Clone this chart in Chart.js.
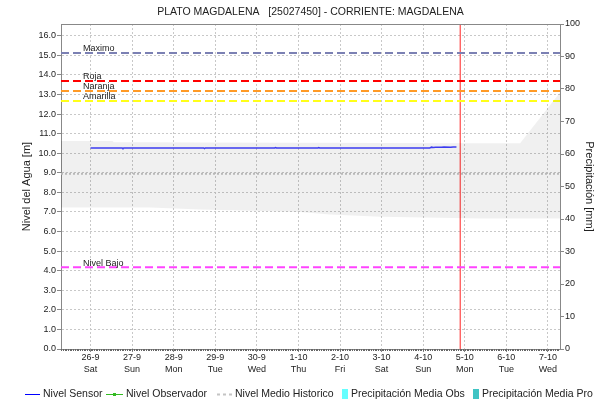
<!DOCTYPE html>
<html>
<head>
<meta charset="utf-8">
<title>Plato Magdalena</title>
<script src="https://cdn.jsdelivr.net/npm/chart.js@4.4.1/dist/chart.umd.min.js"></script>
<style>
  html, body { margin: 0; padding: 0; background: #fff; }
  canvas { display: block; }
</style>
</head>
<body>
<canvas id="nivelChart" width="594" height="403"></canvas>
<script>
const FUENTE = '"Liberation Sans", Arial, sans-serif';
const TITULO = 'PLATO MAGDALENA   [25027450] - CORRIENTE: MAGDALENA';

// eje x en dias contados desde 26-9 00:00
const diaInicio = -0.71;
const diaFin = 11.29;
const fechas = ['26-9', '27-9', '28-9', '29-9', '30-9', '1-10', '2-10', '3-10', '4-10', '5-10', '6-10', '7-10'];
const diasSemana = ['Sat', 'Sun', 'Mon', 'Tue', 'Wed', 'Thu', 'Fri', 'Sat', 'Sun', 'Mon', 'Tue', 'Wed'];

const nivelTicks = [0, 1, 2, 3, 4, 5, 6, 7, 8, 9, 10, 11, 12, 13, 14, 15, 16];
const precipTicks = [0, 10, 20, 30, 40, 50, 60, 70, 80, 90, 100];

// lecturas del sensor
const sensorDias = [0, 0.76, 0.78, 0.8, 2.72, 2.74, 2.76, 4.43, 4.45, 4.47, 5.47, 5.49, 5.51, 8.16, 8.2, 8.24, 8.3, 8.44, 8.5, 8.66, 8.72, 8.8];
const sensorNivel = [10.27, 10.27, 10.25, 10.27, 10.27, 10.24, 10.27, 10.27, 10.29, 10.27, 10.27, 10.29, 10.27, 10.27, 10.31, 10.29, 10.31, 10.3, 10.32, 10.3, 10.32, 10.32];

// rango historico y nivel medio
const historicoDias = [-0.71, 0.53, 0.56, 1.42, 2.62, 5.03, 5.75, 6.96, 9.36, 10.33, 11.29];
const historicoMax = [10.63, 10.63, 10.56, 10.56, 10.55, 10.54, 10.53, 10.52, 10.51, 10.51, 13.1];
const historicoMin = [7.23, 7.23, 7.23, 7.23, 7.13, 7.0, 6.87, 6.75, 6.67, 6.67, 6.67];
const nivelMedio = 8.95;

// umbrales de alerta
const umbralNombres = ['Maximo', 'Roja', 'Naranja', 'Amarilla', 'Nivel Bajo'];
const umbralValores = [15.12, 13.69, 13.18, 12.67, 4.17];
const umbralColores = ['#7b80b3', '#ff0000', '#ff9a26', '#ffff1a', '#ff44ff'];

const horaActual = 8.89;

const leyenda = [
  { tipo: 'linea', color: '#0000ff', texto: 'Nivel Sensor', x: 25, ancho: 15 },
  { tipo: 'marcador', color: '#33bb22', texto: 'Nivel Observador', x: 106, ancho: 17 },
  { tipo: 'puntos', color: '#c4c4c4', texto: 'Nivel Medio Historico', x: 217, ancho: 15 },
  { tipo: 'caja', color: '#66ffff', texto: 'Precipitación Media Obs', x: 342, ancho: 6 },
  { tipo: 'caja', color: '#40c4c4', texto: 'Precipitación Media Pro', x: 473, ancho: 6 }
];

const aPuntos = (xs, ys) => xs.map((x, i) => ({ x: x, y: ys[i] }));
const horizontal = v => [{ x: diaInicio, y: v }, { x: diaFin, y: v }];

const datasets = [
  {
    data: aPuntos(historicoDias, historicoMin),
    borderWidth: 0,
    pointRadius: 0,
    fill: false
  },
  {
    data: aPuntos(historicoDias, historicoMax),
    borderWidth: 0,
    pointRadius: 0,
    fill: '-1',
    backgroundColor: 'rgba(0, 0, 0, 0.06)'
  },
  {
    data: horizontal(nivelMedio),
    borderColor: '#c4c4c4',
    borderWidth: 2,
    borderDash: [2, 2],
    pointRadius: 0
  }
];

umbralValores.forEach((v, i) => {
  datasets.push({
    data: horizontal(v),
    borderColor: umbralColores[i],
    borderWidth: 2,
    borderDash: [8, 4],
    pointRadius: 0
  });
});

datasets.push({
  data: aPuntos(sensorDias, sensorNivel),
  borderColor: '#3f3fff',
  borderWidth: 1.5,
  pointRadius: 0
});

datasets.push({
  data: [{ x: horaActual, y: 0 }, { x: horaActual, y: 16.6 }],
  borderColor: '#ff2020',
  borderWidth: 1,
  pointRadius: 0
});

const decoracion = {
  id: 'decoracion',
  afterDatasetsDraw(chart) {
    const { ctx, chartArea, scales } = chart;
    ctx.save();

    // borde superior del area
    ctx.strokeStyle = '#888';
    ctx.lineWidth = 1;
    ctx.beginPath();
    ctx.moveTo(chartArea.left, chartArea.top + 0.5);
    ctx.lineTo(chartArea.right, chartArea.top + 0.5);
    ctx.stroke();

    // marcas horarias sobre el eje x
    ctx.strokeStyle = '#666';
    ctx.beginPath();
    for (let h = Math.ceil(diaInicio * 24); h <= diaFin * 24; h++) {
      const px = Math.round(scales.x.getPixelForValue(h / 24)) + 0.5;
      ctx.moveTo(px, chartArea.bottom);
      ctx.lineTo(px, chartArea.bottom + 2);
    }
    ctx.stroke();

    // nombres de los umbrales
    ctx.fillStyle = '#222';
    ctx.font = '9px ' + FUENTE;
    ctx.textAlign = 'left';
    ctx.textBaseline = 'alphabetic';
    umbralNombres.forEach((n, i) => {
      ctx.fillText(n, chartArea.left + 22, scales.y.getPixelForValue(umbralValores[i]) - 1.5);
    });
    ctx.restore();
  },
  afterDraw(chart) {
    const { ctx, chartArea } = chart;
    ctx.save();
    ctx.fillStyle = '#222';
    ctx.font = '10.5px ' + FUENTE;
    ctx.textAlign = 'center';
    ctx.textBaseline = 'middle';
    ctx.fillText(TITULO, (chartArea.left + chartArea.right) / 2, 12);

    // leyenda
    const y = 394;
    ctx.textAlign = 'left';
    ctx.font = '10.5px ' + FUENTE;
    leyenda.forEach(item => {
      ctx.strokeStyle = item.color;
      ctx.fillStyle = item.color;
      ctx.lineWidth = 1;
      if (item.tipo === 'caja') {
        ctx.fillRect(item.x, y - 5, item.ancho, 10);
      } else {
        ctx.setLineDash(item.tipo === 'puntos' ? [3, 3] : []);
        ctx.lineWidth = item.tipo === 'puntos' ? 2 : 1;
        ctx.beginPath();
        ctx.moveTo(item.x, y + 0.5);
        ctx.lineTo(item.x + item.ancho, y + 0.5);
        ctx.stroke();
        ctx.setLineDash([]);
        if (item.tipo === 'marcador') {
          ctx.fillRect(item.x + item.ancho / 2 - 1.5, y - 1, 3, 3);
        }
      }
      ctx.fillStyle = '#222';
      ctx.fillText(item.texto, item.x + item.ancho + 3, y);
    });
    ctx.restore();
  }
};

const fuenteTicks = { family: FUENTE, size: 9 };

new Chart(document.getElementById('nivelChart'), {
  type: 'line',
  data: { datasets: datasets },
  plugins: [decoracion],
  options: {
    responsive: false,
    animation: false,
    layout: { padding: { top: 24, left: 0, right: 0, bottom: 0 } },
    plugins: {
      legend: { display: false },
      tooltip: { enabled: false }
    },
    scales: {
      x: {
        type: 'linear',
        min: diaInicio,
        max: diaFin,
        afterBuildTicks: s => { s.ticks = fechas.map((f, i) => ({ value: i })); },
        afterFit: s => { s.height = 54; },
        ticks: {
          callback: (v, i) => [fechas[i], diasSemana[i]],
          font: { family: FUENTE, size: 9, lineHeight: 1.3 },
          color: '#222',
          padding: 0,
          maxRotation: 0,
          autoSkip: false
        },
        grid: { color: '#c8c8c8', tickColor: '#888', tickLength: 3 },
        border: { color: '#888', dash: [2, 2] }
      },
      y: {
        position: 'left',
        min: 0,
        max: 16.6,
        afterBuildTicks: s => { s.ticks = nivelTicks.map(v => ({ value: v })); },
        afterFit: s => { s.width = 61; },
        ticks: {
          callback: v => v.toFixed(1),
          font: fuenteTicks,
          color: '#222',
          padding: 1
        },
        grid: { color: '#c8c8c8', tickColor: '#888', tickLength: 4 },
        border: { color: '#888', dash: [2, 2] },
        title: {
          display: true,
          text: 'Nivel del Agua [m]',
          font: { family: FUENTE, size: 11 },
          color: '#222',
          padding: { top: 20, bottom: 0 }
        }
      },
      y1: {
        position: 'right',
        min: 0,
        max: 100,
        afterBuildTicks: s => { s.ticks = precipTicks.map(v => ({ value: v })); },
        afterFit: s => { s.width = 34; },
        ticks: {
          font: fuenteTicks,
          color: '#222',
          padding: 1
        },
        grid: { drawOnChartArea: false, tickColor: '#888', tickLength: 4 },
        border: { color: '#888' },
        title: {
          display: true,
          text: 'Precipitación [mm]',
          font: { family: FUENTE, size: 11 },
          color: '#222',
          padding: { top: -2, bottom: 0 }
        }
      }
    }
  }
});
</script>
</body>
</html>
